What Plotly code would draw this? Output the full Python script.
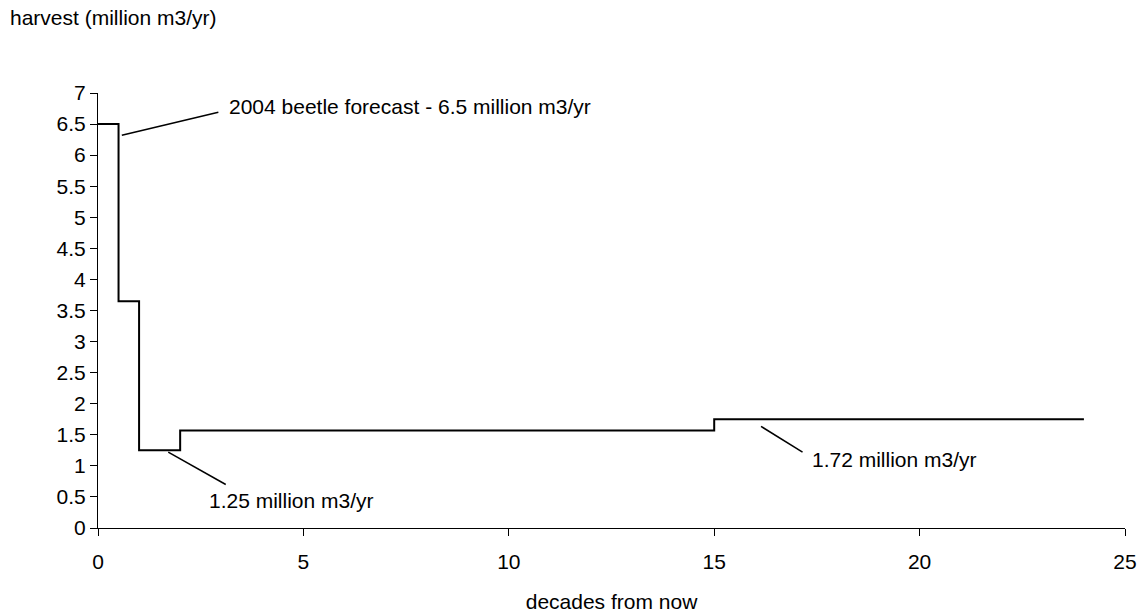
import plotly.graph_objects as go

# Step data: decades from now vs harvest (million m3/yr)
decades = [0, 0.5, 1, 2, 15, 24]
harvest = [6.5, 3.65, 1.25, 1.57, 1.75, 1.75]

# Callout labels (text, text anchor x/y, leader line start x/y, end x/y)
label_texts = ["2004 beetle forecast - 6.5 million m3/yr",
               "1.25 million m3/yr",
               "1.72 million m3/yr"]
label_x = [3.13, 2.65, 17.33]
label_y = [6.78, 0.44, 1.10]
leader_x0 = [0.58, 1.71, 16.14]
leader_y0 = [6.32, 1.22, 1.635]
leader_x1 = [2.93, 3.11, 17.15]
leader_y1 = [6.69, 0.70, 1.22]

FONT = "Arial, Liberation Sans, sans-serif"
FS = 21

W, H = 1142, 614
ML, MR, MT, MB = 98, 17, 93, 86

fig = go.Figure()
fig.add_trace(go.Scatter(
    x=decades, y=harvest, mode="lines", line_shape="hv",
    line=dict(color="black", width=2), showlegend=False, hoverinfo="skip"))

for i in range(len(label_texts)):
    fig.add_shape(type="line", xref="x", yref="y",
                  x0=leader_x0[i], y0=leader_y0[i], x1=leader_x1[i], y1=leader_y1[i],
                  line=dict(color="black", width=1.5))
    fig.add_annotation(x=label_x[i], y=label_y[i], xref="x", yref="y",
                       text=label_texts[i], showarrow=False, xanchor="left", yanchor="middle",
                       font=dict(family=FONT, size=FS, color="black"))

fig.add_annotation(x=(8 - ML) / (W - ML - MR), y=1 + (MT - 18) / (H - MT - MB),
                   xref="paper", yref="paper", text="harvest (million m3/yr)",
                   showarrow=False, xanchor="left", yanchor="middle",
                   font=dict(family=FONT, size=FS, color="black"))

fig.update_layout(
    width=W, height=H,
    margin=dict(l=ML, r=MR, t=MT, b=MB, autoexpand=False),
    paper_bgcolor="white", plot_bgcolor="white",
    font=dict(family=FONT, size=FS, color="black"),
    xaxis=dict(range=[0, 25], dtick=5, tick0=0, showgrid=False, zeroline=False,
               showline=True, linecolor="black", linewidth=1,
               ticks="outside", ticklen=7, tickcolor="black", tickwidth=1,
               ticklabelstandoff=8, automargin=False,
               title=dict(text="decades from now", font=dict(family=FONT, size=FS), standoff=22)),
    yaxis=dict(range=[0, 7], dtick=0.5, tick0=0, showgrid=False, zeroline=False,
               showline=True, linecolor="black", linewidth=1, automargin=False,
               ticks="outside", ticklen=7, tickcolor="black", tickwidth=1),
)

fig.write_html("out.html", config={"displayModeBar": False},
               post_script="document.body.style.margin='0';")
